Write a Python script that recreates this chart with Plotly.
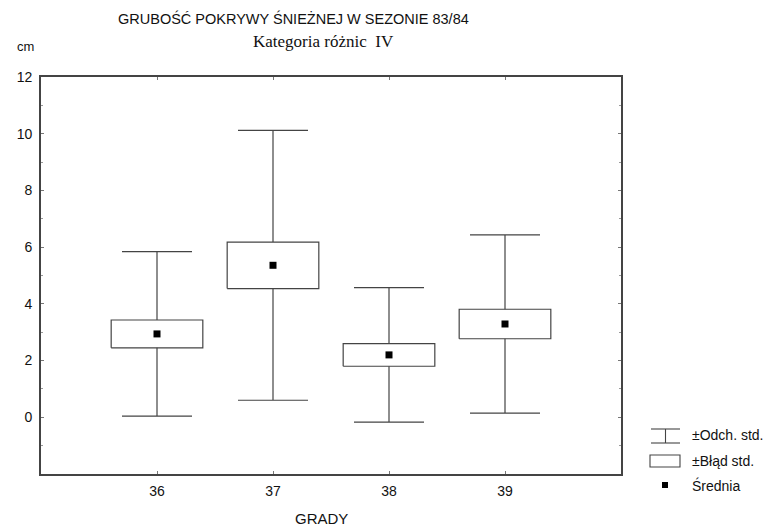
import plotly.graph_objects as go

# Snow cover thickness by group: mean, standard error, standard deviation (cm)
grady = [36, 37, 38, 39]
srednia = [2.94, 5.36, 2.20, 3.29]
blad_std = [0.49, 0.82, 0.40, 0.52]
odch_std = [2.90, 4.76, 2.37, 3.14]

box_half = 0.395
line_col = "#444444"
text_col = "#111111"

fig = go.Figure()

# whiskers: mean ± standard deviation
fig.add_trace(go.Scatter(
    x=grady, y=srednia, mode="markers",
    marker=dict(size=1, color="rgba(0,0,0,0)"),
    error_y=dict(type="data", array=odch_std, symmetric=True,
                 width=35, thickness=1.2, color=line_col),
    showlegend=False, hoverinfo="skip",
))

# boxes: mean ± standard error
bx, by = [], []
for g, m, s in zip(grady, srednia, blad_std):
    bx += [g - box_half, g + box_half, g + box_half, g - box_half, g - box_half, None]
    by += [m - s, m - s, m + s, m + s, m - s, None]
fig.add_trace(go.Scatter(
    x=bx, y=by, mode="lines", fill="toself", fillcolor="white",
    line=dict(color=line_col, width=1.2),
    showlegend=False, hoverinfo="skip",
))

# means
fig.add_trace(go.Scatter(
    x=grady, y=srednia, mode="markers",
    marker=dict(symbol="square", size=7, color="black"),
    showlegend=False,
))

sans = "Liberation Sans, Arial"
axis_common = dict(
    showline=True, linecolor=line_col, linewidth=1.6, mirror="ticks",
    ticks="inside", ticklen=3, tickcolor="#777", tickwidth=1,
    showgrid=False, zeroline=False,
    tickfont=dict(family=sans, size=14, color=text_col),
)

fig.update_xaxes(range=[35, 40], tickvals=grady, ticktext=[str(g) for g in grady],
                 ticklabelstandoff=3, **axis_common)
fig.update_yaxes(range=[-2, 12], tickvals=[0, 2, 4, 6, 8, 10, 12],
                 ticklabelstandoff=4,
                 minor=dict(tickvals=[-1, 1, 3, 5, 7, 9, 11], ticks="inside",
                            ticklen=2, tickcolor="#999"),
                 **axis_common)

annotations = [
    dict(text="GRUBOŚĆ POKRYWY ŚNIEŻNEJ W SEZONIE 83/84", x=293, y=18,
         font=dict(family=sans, size=14.5, color=text_col)),
    dict(text="Kategoria różnic  IV", x=323, y=42,
         font=dict(family="Liberation Serif, Times New Roman", size=17, color=text_col)),
    dict(text="cm", x=25, y=46, font=dict(family=sans, size=13, color=text_col)),
    dict(text="GRADY", x=321, y=518, font=dict(family=sans, size=15, color=text_col)),
    dict(text="±Odch. std.", x=690, y=435, xanchor="left",
         font=dict(family=sans, size=14, color=text_col)),
    dict(text="±Błąd std.", x=690, y=461, xanchor="left",
         font=dict(family=sans, size=14, color=text_col)),
    dict(text="Średnia", x=690, y=485, xanchor="left",
         font=dict(family=sans, size=14, color=text_col)),
]
W, H = 772, 528


def px(xp, yp):
    return (xp - 41) / (621 - 41), (H - 54 - yp) / (474 - 77)


ann_objs = []
for a in annotations:
    ax, ay = px(a["x"], a["y"])
    ann_objs.append(dict(xref="paper", yref="paper", showarrow=False,
                         xanchor=a.get("xanchor", "center"), yanchor="middle",
                         x=ax, y=ay, text=a["text"], font=a["font"]))

shapes = []
# legend icon: whisker
x0, y0 = px(651, 429)
x1, y1 = px(680, 443)
xm, _ = px(665.5, 0)
for ya, yb, xa, xb in [(y0, y0, x0, x1), (y1, y1, x0, x1), (y0, y1, xm, xm)]:
    shapes.append(dict(type="line", xref="paper", yref="paper", x0=xa, x1=xb,
                       y0=ya, y1=yb, line=dict(color=line_col, width=1.1)))
# legend icon: box
x0, y0 = px(650, 455)
x1, y1 = px(680, 467)
shapes.append(dict(type="rect", xref="paper", yref="paper", x0=x0, x1=x1, y0=y0, y1=y1,
                   line=dict(color=line_col, width=1.1), fillcolor="white"))
# legend icon: mean marker
x0, y0 = px(662, 482)
x1, y1 = px(668, 488)
shapes.append(dict(type="rect", xref="paper", yref="paper", x0=x0, x1=x1, y0=y0, y1=y1,
                   line=dict(width=0), fillcolor="black"))

fig.update_layout(
    width=W, height=H,
    margin=dict(l=41, r=W - 621, t=77, b=54),
    paper_bgcolor="white", plot_bgcolor="white",
    annotations=ann_objs, shapes=shapes,
    showlegend=False,
)

fig.write_html("out.html")
